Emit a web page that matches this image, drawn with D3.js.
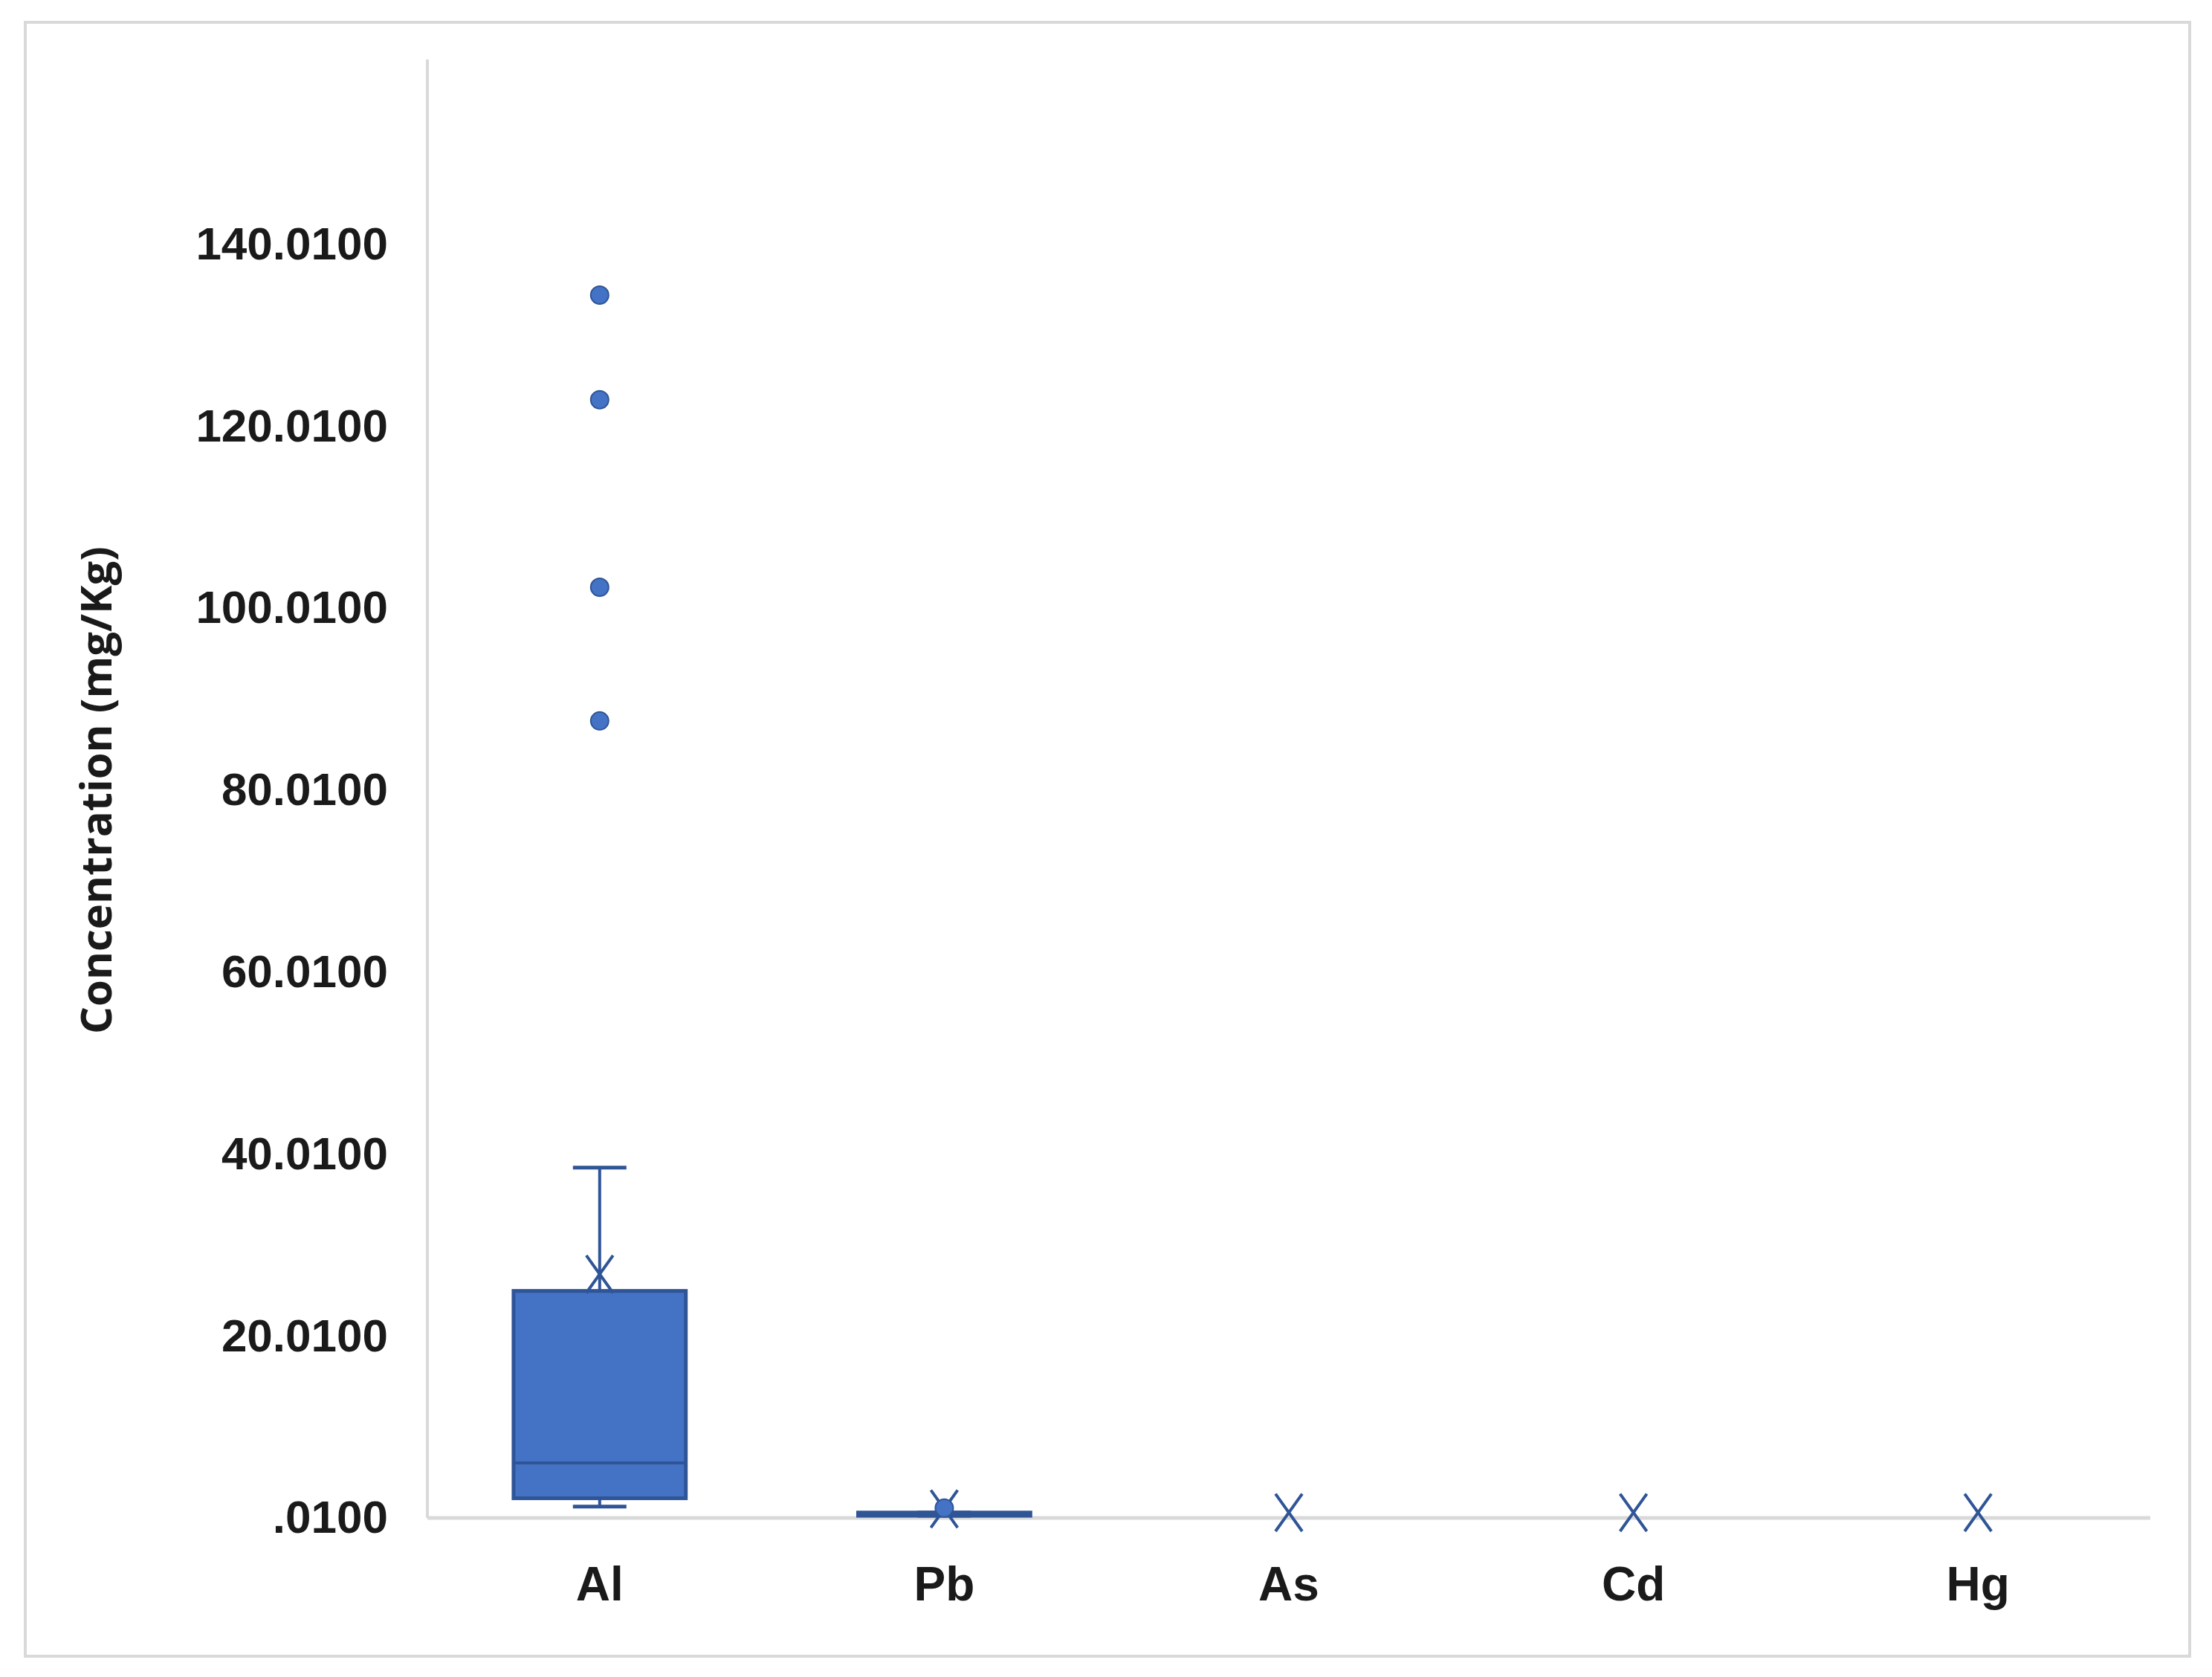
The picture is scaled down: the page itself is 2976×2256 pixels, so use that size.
<!DOCTYPE html>
<html><head><meta charset="utf-8">
<script src="https://cdn.jsdelivr.net/npm/d3@7"></script>
<style>body{margin:0;background:#fff}</style></head>
<body><svg id="c" width="2976" height="2256"></svg>
<script>
const categories = ["Al","Pb","As","Cd","Hg"];
const q1 = [2.17, 0.25, 0.3, 0.3, 0.3];
const median = [6.05, 0.4, 0.3, 0.3, 0.3];
const q3 = [24.96, 0.6, 0.3, 0.3, 0.3];
const whiskerLow = [1.25, 0.25, 0.3, 0.3, 0.3];
const whiskerHigh = [38.5, 0.6, 0.3, 0.3, 0.3];
const means = [26.8, 1.0, 0.6, 0.6, 0.6];
const outliers = [[134.4, 122.9, 102.3, 87.6],[1.1],[],[],[]];
const tickValues = [0.01,20.01,40.01,60.01,80.01,100.01,120.01,140.01];
const tickLabels = [".0100","20.0100","40.0100","60.0100","80.0100","100.0100","120.0100","140.0100"];

const svg = d3.select("#c");
const L=575,R=2893,T=80,B=2042;
svg.append("rect").attr("x",34).attr("y",30).attr("width",2912).attr("height",2198)
  .attr("fill","#fff").attr("stroke","#d9d9d9").attr("stroke-width",4);
const x = d3.scaleBand().domain(categories).range([L,R]);
const y = d3.scaleLinear().domain([0.01,160.3]).range([B,T]);
const font = "'Liberation Sans Narrow','Liberation Sans',Arial,sans-serif";

svg.append("line").attr("x1",L).attr("x2",L).attr("y1",T).attr("y2",B).attr("stroke","#d9d9d9").attr("stroke-width",4);
svg.append("line").attr("x1",L).attr("x2",R).attr("y1",B).attr("y2",B).attr("stroke","#d9d9d9").attr("stroke-width",5);

const yAxis = svg.append("g").attr("transform",`translate(${L-50},0)`)
  .call(d3.axisLeft(y).tickValues(tickValues).tickFormat((d,i)=>tickLabels[i]).tickSize(0));
yAxis.select(".domain").remove();
yAxis.selectAll("text").attr("font-family",font).attr("font-weight","bold").attr("font-size",62).attr("fill","#1a1a1a");

const xAxis = svg.append("g").attr("transform",`translate(0,${B+60})`)
  .call(d3.axisBottom(x).tickSize(0));
xAxis.select(".domain").remove();
xAxis.selectAll("text").attr("font-family",font).attr("font-weight","bold").attr("font-size",64).attr("fill","#1a1a1a").attr("dy","0.75em");

svg.append("text").attr("transform","translate(150,1063) rotate(-90)").attr("text-anchor","middle")
  .attr("font-family","'Open Sans',sans-serif").attr("font-weight","bold").attr("font-size",58).attr("fill","#1a1a1a")
  .text("Concentration (mg/Kg)");

const col="#4472c4", st="#2f5597";
const bw = x.bandwidth()*0.5;
categories.forEach((c,i)=>{
  const cx = x(c)+x.bandwidth()/2;
  const g = svg.append("g");
  g.append("line").attr("x1",cx).attr("x2",cx).attr("y1",y(whiskerHigh[i])).attr("y2",y(q3[i])).attr("stroke",st).attr("stroke-width",4);
  g.append("line").attr("x1",cx).attr("x2",cx).attr("y1",y(q1[i])).attr("y2",y(whiskerLow[i])).attr("stroke",st).attr("stroke-width",4);
  if(i<2){
    [whiskerHigh[i],whiskerLow[i]].forEach(v=>g.append("line").attr("x1",cx-36).attr("x2",cx+36).attr("y1",y(v)).attr("y2",y(v)).attr("stroke",st).attr("stroke-width",5));
    g.append("rect").attr("x",cx-bw/2).attr("width",bw).attr("y",y(q3[i])).attr("height",Math.max(1,y(q1[i])-y(q3[i])))
      .attr("fill",col).attr("stroke",st).attr("stroke-width",5);
    g.append("line").attr("x1",cx-bw/2).attr("x2",cx+bw/2).attr("y1",y(median[i])).attr("y2",y(median[i])).attr("stroke",st).attr("stroke-width",4);
  }
  const my=y(means[i]), s=18;
  g.append("path").attr("d",`M${cx-s},${my-s*1.4}L${cx+s},${my+s*1.4}M${cx+s},${my-s*1.4}L${cx-s},${my+s*1.4}`)
    .attr("stroke",st).attr("stroke-width",4).attr("fill","none");
  outliers[i].forEach(v=>g.append("circle").attr("cx",cx).attr("cy",y(v)).attr("r",12).attr("fill",col).attr("stroke",st).attr("stroke-width",2));
});
</script></body></html>
